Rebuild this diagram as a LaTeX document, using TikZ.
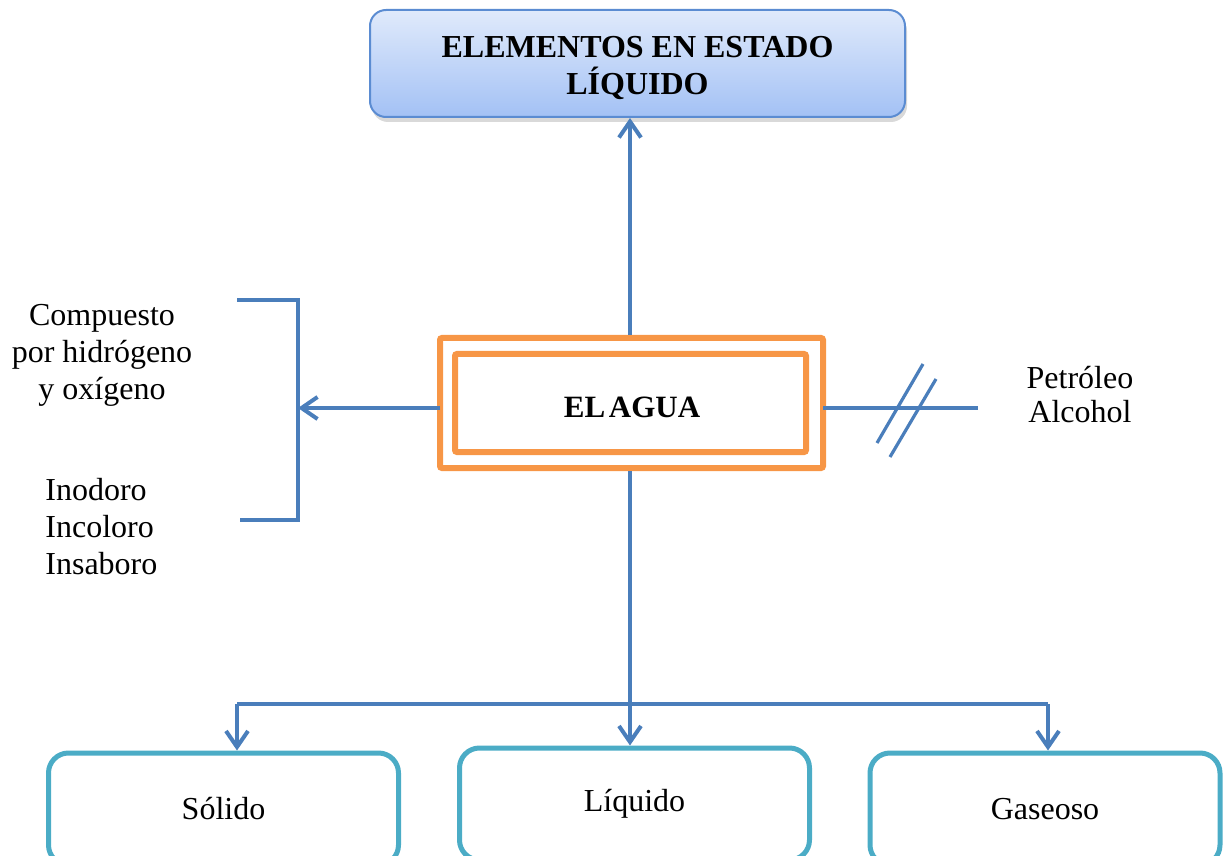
\documentclass[tikz,border=0pt]{standalone}
\usepackage{fontspec}
\setmainfont{Liberation Serif}
\usetikzlibrary{arrows.meta,shadows}
\definecolor{lineblue}{HTML}{4A7EBB}
\definecolor{boxborder}{HTML}{5B8CD2}
\definecolor{gradtop}{HTML}{E0EAFB}
\definecolor{gradbot}{HTML}{A3C1F5}
\definecolor{orangeb}{HTML}{F79646}
\definecolor{tealb}{HTML}{4BACC6}
\begin{document}
\begin{tikzpicture}[x=0.5pt,y=-0.5pt,
  conn/.style={draw=lineblue, line width=1.6pt},
  arr/.style={conn, -{Straight Barb[length=8pt,width=11pt,line width=2pt]}},
  txt/.style={font=\fontsize{16}{18.5}\selectfont, inner sep=0pt},
  topbox/.style={draw=boxborder, line width=1pt, rounded corners=8pt,
    top color=gradtop, bottom color=gradbot,
    drop shadow={opacity=0.3, shadow xshift=1pt, shadow yshift=-2.5pt},
    minimum width=267.5pt, minimum height=53.5pt},
  toptext/.style={align=center, inner sep=0pt,
    font=\bfseries\fontsize{16}{18.5}\selectfont},
  outerbox/.style={draw=orangeb, line width=3pt, rounded corners=1pt,
    minimum width=191.5pt, minimum height=65pt},
  innerbox/.style={draw=orangeb, line width=3pt, rounded corners=1pt,
    minimum width=175.5pt, minimum height=49pt},
  aguatext/.style={inner sep=0pt, font=\bfseries\fontsize{15.5}{18}\selectfont},
  statebox/.style={draw=tealb, line width=2.5pt, rounded corners=10pt,
    minimum width=175pt, minimum height=56pt,
    font=\fontsize{16}{18.5}\selectfont}
]
\useasboundingbox (0,0) rectangle (1223,856);
\clip (0,0) rectangle (1223,856);

% top box
\node[topbox] (top) at (637.5,63.5) {};
\node[toptext] (toptxt) at (637.5,68) {ELEMENTOS EN ESTADO\\LÍQUIDO};

% central boxes
\node[outerbox] (agua) at (631.5,403) {};
\node[innerbox] (aguain) at (630.5,403) {};
\node[aguatext] (aguatxt) at (632,407) {EL\hspace{0.12em}AGUA};

% bottom boxes
\node[statebox] (sol) at (223.5,809) {Sólido};
\node[statebox] (liq) at (634.5,804) {Líquido};
\node[statebox] (gas) at (1045,809) {Gaseoso};

% junction coordinates
\coordinate (jm) at (630,704);
\coordinate (jl) at (237,704);
\coordinate (jr) at (1048,704);
\coordinate (ml) at (440,408);
\coordinate (mr) at (823,408);

% up arrow
\draw[arr] (agua.north -| jm) -- (top.south -| jm);

% left bracket and arrow
\coordinate (btl) at (237,300);
\coordinate (bt) at (298,300);
\coordinate (bb) at (298,520);
\coordinate (bbl) at (240,520);
\draw[conn] (btl) -- (bt) -- (bb) -- (bbl);
\draw[arr] (ml) -- (ml -| bt);

\node[txt, align=center] (comp) at (102,355) {Compuesto\\por hidrógeno\\y oxígeno};
\node[txt, align=left, anchor=west] (ino) at (45,527) {Inodoro\\Incoloro\\Insaboro};

% right line with double slash
\coordinate (re) at (978,408);
\draw[conn] (mr) -- (re);
\coordinate (s1a) at (877,443);
\coordinate (s1b) at (923,364);
\coordinate (s2a) at (890,457);
\coordinate (s2b) at (936,379);
\draw[conn] (s1a) -- (s1b);
\draw[conn] (s2a) -- (s2b);
\node[txt, align=center, font=\fontsize{16}{17}\selectfont] (pet) at (1080,395) {Petróleo\\Alcohol};

% bottom distribution
\draw[arr] (agua.south -| jm) -- (liq.north -| jm);
\draw[conn] (jl) -- (jr);
\draw[arr] (jl) -- (jl |- sol.north);
\draw[arr] (jr) -- (jr |- gas.north);
\end{tikzpicture}
\end{document}
